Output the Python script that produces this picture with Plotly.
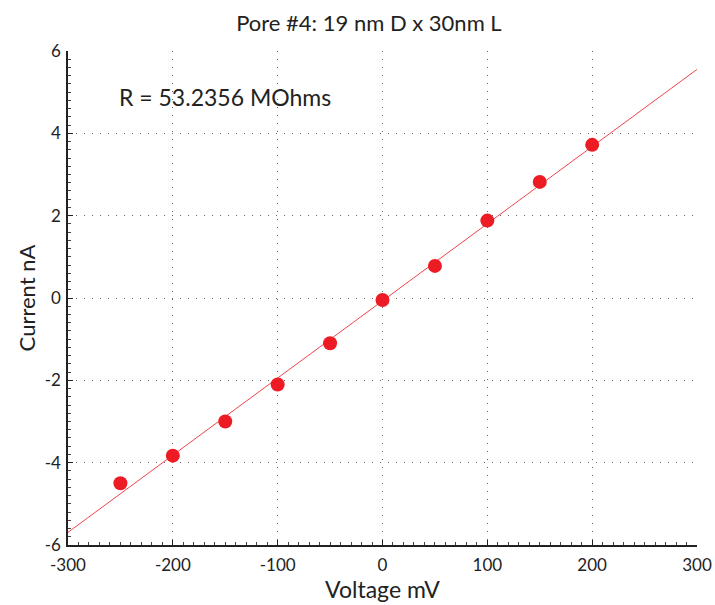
import numpy as np
import plotly.graph_objects as go

voltage_mV = [-250, -200, -150, -100, -50, 0, 50, 100, 150, 200]
current_nA = [-4.50, -3.83, -3.00, -2.10, -1.10, -0.05, 0.78, 1.88, 2.82, 3.72]
fit_x = [-300, 300]
title_text = "Pore #4: 19 nm D x 30nm L"
r_label = "R = 53.2356 MOhms"
x_ticks = [-300, -200, -100, 0, 100, 200, 300]
x_tick_text = ["-300", "-200", "-100", "0", "100", "200", "300"]
y_ticks = [-6, -4, -2, 0, 2, 4, 6]
y_tick_text = ["-6", "-4", "-2", "0", "2", "4", "6"]

slope, intercept = np.polyfit(voltage_mV, current_nA, 1)
fit_y = [slope * v + intercept for v in fit_x]

FONT = "Lato"
RED = "#ED1C24"
INK = "#222"

fig = go.Figure()
fig.add_trace(go.Scatter(x=fit_x, y=fit_y, mode="lines",
                         line=dict(color="#F0444A", width=1), showlegend=False))
fig.add_trace(go.Scatter(x=voltage_mV, y=current_nA, mode="markers",
                         marker=dict(color=RED, size=14, line=dict(width=0)),
                         showlegend=False))

axis_common = dict(
    showline=True, linecolor=INK, linewidth=1.5,
    ticks="inside", ticklen=5, tickcolor=INK, tickwidth=1,
    showgrid=True, gridcolor="#666", griddash="1px,7px", gridwidth=1,
    zeroline=False, mirror=False, automargin=False,
    tickfont=dict(family=FONT, size=17, color=INK),
)

fig.update_xaxes(range=[-300, 300], tickvals=x_ticks, ticktext=x_tick_text,
                 ticklabelstandoff=4,
                 title=dict(text="Voltage mV", font=dict(family=FONT, size=23, color=INK), standoff=4),
                 minor=dict(ticks="inside", ticklen=3, tickcolor="#444", dtick=10, showgrid=False),
                 **axis_common)
fig.update_yaxes(range=[-6, 6], tickvals=y_ticks, ticktext=y_tick_text,
                 ticklabelstandoff=2,
                 title=dict(text="Current nA", font=dict(family=FONT, size=22, color=INK), standoff=3),
                 minor=dict(ticks="inside", ticklen=3, tickcolor="#444", dtick=0.2, showgrid=False),
                 **axis_common)

fig.add_annotation(x=-253, y=4.88, xref="x", yref="y", text=r_label, showarrow=False,
                   xanchor="left", yanchor="middle",
                   font=dict(family=FONT, size=23, color=INK))

fig.update_layout(
    width=715, height=605,
    margin=dict(l=68, r=18, t=51, b=60, autoexpand=False),
    paper_bgcolor="white", plot_bgcolor="white",
    title=dict(text=title_text, x=0.516, xanchor="center", y=0.962, yanchor="middle",
               font=dict(family=FONT, size=22, color=INK)),
)

fig.write_html("out.html")
